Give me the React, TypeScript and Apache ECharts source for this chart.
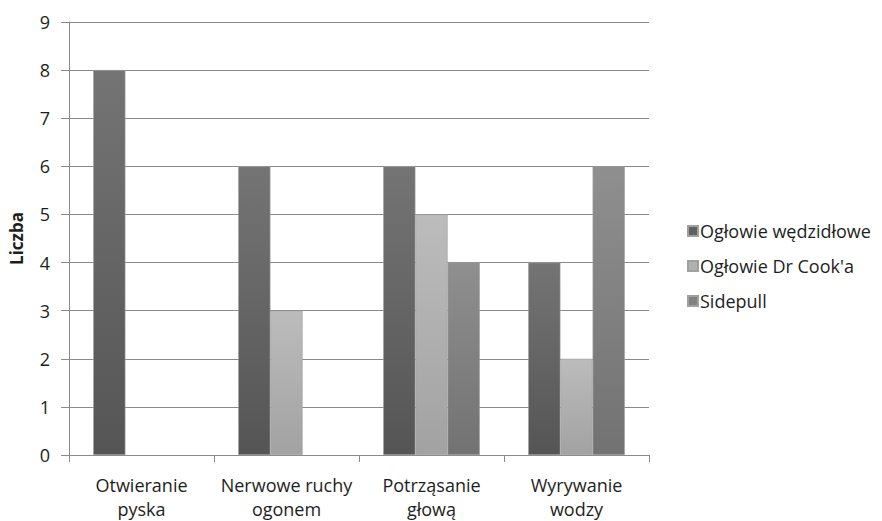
import React, { useEffect, useRef } from "react";
import * as echarts from "echarts";

const categories = ["Otwieranie\npyska", "Nerwowe ruchy\nogonem", "Potrząsanie\ngłową", "Wyrywanie\nwodzy"];
const seriesNames = ["Ogłowie wędzidłowe", "Ogłowie Dr Cook'a", "Sidepull"];
const wedzidlowe = [8, 6, 6, 4];
const drCook = [0, 3, 5, 2];
const sidepull = [0, 0, 4, 6];
const yTicks = [0, 9, 1];

const FONT = "'Open Sans', 'Liberation Sans', sans-serif";

const grad = (top: string, bottom: string) =>
  new echarts.graphic.LinearGradient(0, 0, 0, 1, [
    { offset: 0, color: top },
    { offset: 1, color: bottom },
  ]);

export default function App() {
  const ref = useRef<HTMLDivElement>(null);
  useEffect(() => {
    if (!ref.current) return;
    const chart = echarts.init(ref.current, undefined, { renderer: "svg" });
    const fills = [
      { top: "#747474", bottom: "#555555", solid: "#606060" },
      { top: "#bcbcbc", bottom: "#a2a2a2", solid: "#b0b0b0" },
      { top: "#8f8f8f", bottom: "#727272", solid: "#808080" },
    ];
    const values = [wedzidlowe, drCook, sidepull];
    chart.setOption({
      animation: false,
      backgroundColor: "#ffffff",
      grid: { left: 68, right: 233, top: 22, bottom: 65, containLabel: false },
      legend: {
        orient: "vertical",
        left: 682,
        top: 215,
        itemWidth: 10,
        itemHeight: 10,
        itemGap: 13,
        icon: "rect",
        textStyle: { fontFamily: FONT, fontSize: 18, lineHeight: 22, color: "#1e1e1e", padding: [0, 0, 0, -3] },
        data: seriesNames.map((n, i) => ({ name: n, itemStyle: { color: fills[i].solid } })),
      },
      xAxis: {
        type: "category",
        data: categories,
        axisLine: { lineStyle: { color: "#8a8a8a", width: 1 } },
        axisTick: { show: true, length: 7, interval: 0, alignWithLabel: false, lineStyle: { color: "#8a8a8a" } },
        axisLabel: {
          interval: 0,
          fontFamily: FONT,
          fontSize: 18,
          color: "#1e1e1e",
          lineHeight: 24,
          margin: 18,
        },
      },
      yAxis: {
        type: "value",
        min: yTicks[0],
        max: yTicks[1],
        interval: yTicks[2],
        name: "Liczba",
        nameLocation: "middle",
        nameRotate: 90,
        nameGap: 44,
        nameTextStyle: { fontFamily: FONT, fontSize: 17, fontWeight: "bold", color: "#1e1e1e" },
        axisLine: { show: true, lineStyle: { color: "#8a8a8a", width: 1 } },
        axisTick: { show: true, length: 8, lineStyle: { color: "#8a8a8a" } },
        axisLabel: { fontFamily: FONT, fontSize: 18, color: "#1e1e1e", margin: 19 },
        splitLine: { show: true, lineStyle: { color: "#8a8a8a", width: 1 } },
      },
      series: seriesNames.map((n, i) => ({
        name: n,
        type: "bar",
        data: values[i].map((v) => (v === 0 ? null : v)),
        barGap: "0%",
        barCategoryGap: "33.4%",
        itemStyle: {
          color: grad(fills[i].top, fills[i].bottom),
          borderColor: "#a0a0a0",
          borderWidth: 0.6,
        },
      })),
    });
    return () => chart.dispose();
  }, []);
  return <div ref={ref} style={{ width: 882, height: 521, position: "absolute", left: 0, top: 0 }} />;
}
